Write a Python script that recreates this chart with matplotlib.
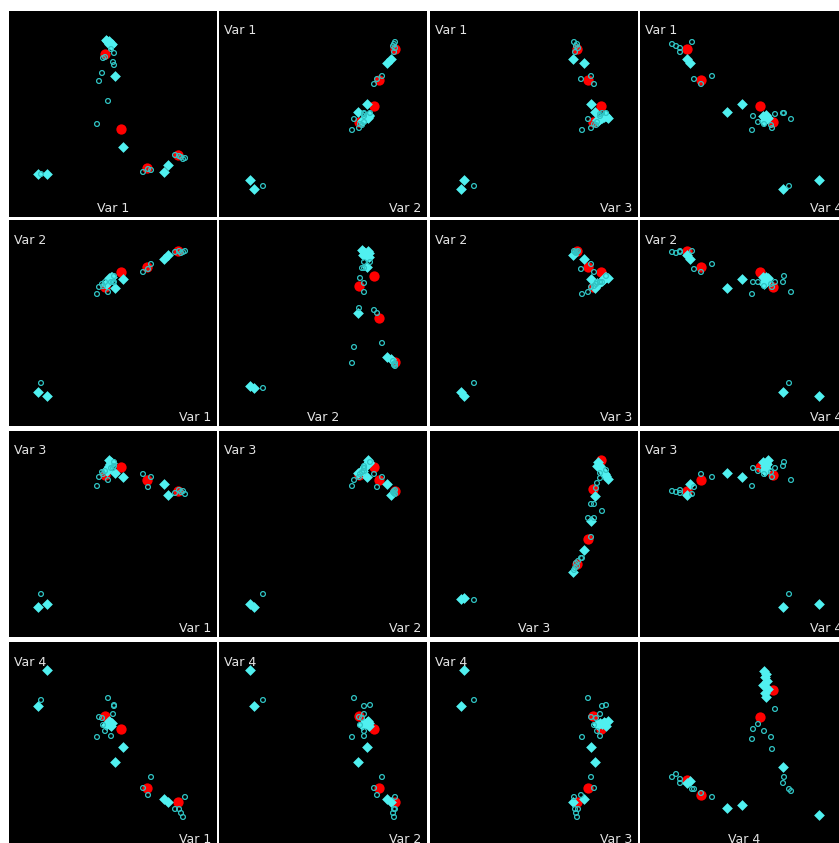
import matplotlib
matplotlib.use("Agg")
import matplotlib.pyplot as plt

# variable names for the 4x4 scatter matrix
var_names = ['Var 1', 'Var 2', 'Var 3', 'Var 4']

# red filled circles
red_var1 = [96, 112, 138, 169]
red_var2 = [140, 155, 160, 176]
red_var3 = [163, 171, 158, 147]
red_var4 = [133, 120, 61, 47]
red_diag1 = [164, 89, 50, 63]
red_diag2 = [141, 151, 109, 65]
red_diag3 = [149, 178, 99, 74]
red_diag4 = [159, 132, 54, 69]

# cyan filled diamonds
dia_var1 = [97, 99, 100, 101, 102, 100, 98, 103, 106, 114, 155, 159, 29, 38]
dia_var2 = [143, 145, 146, 148, 150, 149, 144, 150, 139, 148, 168, 172, 35, 31]
dia_var3 = [168, 170, 172, 174, 176, 178, 167, 175, 165, 161, 154, 143, 31, 34]
dia_var4 = [124, 126, 125, 127, 123, 128, 125, 126, 87, 102, 50, 47, 143, 179]
dia_diag1 = [178, 176, 174, 175, 173, 177, 177, 174, 142, 71, 46, 53, 44, 44]
dia_diag2 = [177, 175, 173, 171, 170, 176, 172, 174, 114, 160, 70, 68, 39, 41]
dia_diag3 = [176, 172, 168, 165, 162, 159, 172, 164, 142, 117, 88, 66, 39, 40]
dia_diag4 = [178, 175, 172, 168, 164, 160, 156, 152, 41, 44, 68, 66, 82, 34]

# small open cyan circles
circ_var1 = [32, 174, 172, 166, 170, 176, 142, 134, 139, 102, 88, 96, 94, 104, 105, 99, 105, 90, 93]
circ_var2 = [44, 175, 174, 175, 176, 176, 163, 155, 158, 145, 133, 145, 141, 145, 151, 135, 145, 140, 143]
circ_var3 = [44, 147, 146, 145, 148, 144, 161, 164, 151, 170, 152, 167, 164, 170, 176, 158, 172, 161, 166]
circ_var4 = [149, 32, 36, 40, 40, 52, 72, 61, 54, 113, 112, 118, 124, 135, 144, 151, 143, 132, 131]
circ_diag1 = [44, 59, 61, 63, 62, 60, 48, 46, 49, 169, 94, 161, 160, 156, 165, 117, 153, 137, 145]
circ_diag2 = [39, 63, 66, 62, 64, 61, 84, 117, 114, 165, 64, 159, 149, 144, 165, 80, 135, 119, 159]
circ_diag3 = [38, 72, 75, 70, 77, 68, 101, 120, 80, 165, 80, 155, 134, 160, 168, 120, 127, 134, 150]
circ_diag4 = [60, 72, 75, 70, 66, 60, 52, 56, 60, 120, 110, 125, 118, 140, 72, 58, 66, 100, 112]

red_vars = [red_var1, red_var2, red_var3, red_var4]
red_diag = [red_diag1, red_diag2, red_diag3, red_diag4]
dia_vars = [dia_var1, dia_var2, dia_var3, dia_var4]
dia_diag = [dia_diag1, dia_diag2, dia_diag3, dia_diag4]
circ_vars = [circ_var1, circ_var2, circ_var3, circ_var4]
circ_diag = [circ_diag1, circ_diag2, circ_diag3, circ_diag4]

W, H = 839, 843
col_left = [9, 219, 430, 640]
row_top = [11, 220, 431, 642]
pw, ph = 208, 206

fig = plt.figure(figsize=(W / 100, H / 100), dpi=100, facecolor='white')

label_color = '#e4e4e4'

for r in range(4):
    for c in range(4):
        ax = fig.add_axes([col_left[c] / W, 1 - (row_top[r] + ph) / H, pw / W, ph / H])
        ax.set_facecolor('black')
        for s in ax.spines.values():
            s.set_visible(False)
        ax.set_xticks([])
        ax.set_yticks([])
        ax.set_xlim(0, 208)
        ax.set_ylim(1, 207)

        # diagonal panels: variable against its own profile values
        if r == c:
            ry, dy, cy = red_diag[c], dia_diag[c], circ_diag[c]
        else:
            ry, dy, cy = red_vars[r], dia_vars[r], circ_vars[r]

        ax.scatter(red_vars[c], ry, s=55, marker='o', color='#ff0000', linewidths=0, zorder=2)
        ax.scatter(dia_vars[c], dy, s=30, marker='D', color='#50f0f0', linewidths=0, zorder=3)
        ax.scatter(circ_vars[c], cy, s=12, marker='o', facecolors='none',
                   edgecolors='#30c4c4', linewidths=0.9, zorder=4)

        if r == c:
            ax.text(0.5, 9 / ph, var_names[c], transform=ax.transAxes, ha='center', va='center',
                    color=label_color, fontsize=9)
        else:
            ax.text(5 / pw, 1 - 20 / ph, var_names[r], transform=ax.transAxes, ha='left', va='center',
                    color=label_color, fontsize=9)
            ax.text(1 - 6 / pw, 9 / ph, var_names[c], transform=ax.transAxes, ha='right', va='center',
                    color=label_color, fontsize=9)

fig.savefig('out.png', dpi=100, facecolor='white')
